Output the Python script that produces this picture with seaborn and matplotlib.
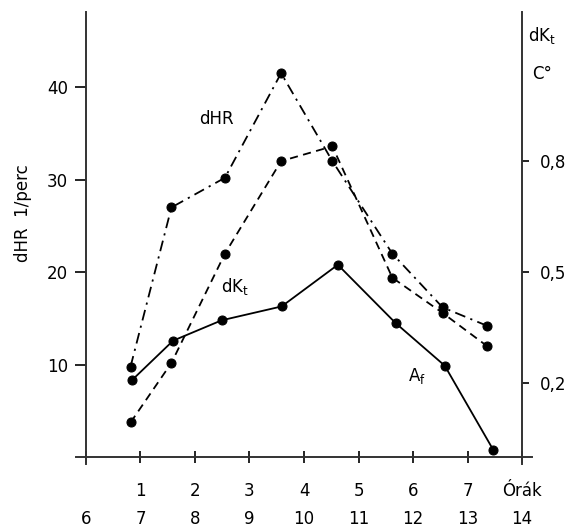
import matplotlib
matplotlib.use('Agg')
import matplotlib.pyplot as plt
import seaborn as sns

# hours of measurement (x positions of the points)
hours = [0.82, 1.57, 2.55, 3.58, 4.52, 5.62, 6.54, 7.36]
hours_af = [0.84, 1.6, 2.49, 3.59, 4.62, 5.68, 6.58, 7.47]

# dHR (1/perc), dK_t (C°) and A_f series
dhr = [9.8, 27.0, 30.2, 41.5, 32.0, 22.0, 16.2, 14.2]
dkt = [0.094, 0.255, 0.55, 0.80, 0.84, 0.485, 0.39, 0.30]
af = [8.3, 12.6, 14.8, 16.3, 20.8, 14.5, 9.9, 0.8]

# axis ticks and labels
x_ticks = [0, 1, 2, 3, 4, 5, 6, 7, 8]
x_top = ['', '1', '2', '3', '4', '5', '6', '7', 'Órák']
x_bottom = ['6', '7', '8', '9', '10', '11', '12', '13', '14']
left_ticks = [10, 20, 30, 40]
right_ticks = [0.2, 0.5, 0.8]
right_labels = ['0,2', '0,5', '0,8']


def main():
    sns.set_style('ticks')
    plt.rcParams['font.family'] = ['DejaVu Sans']
    plt.rcParams['text.color'] = 'black'
    plt.rcParams['xtick.color'] = 'black'
    plt.rcParams['ytick.color'] = 'black'
    fs = 12

    fig = plt.figure(figsize=(5.75, 5.27), dpi=100)
    ax = fig.add_axes([0.1322, 0.120, 0.793, 0.857])
    ax2 = ax.twinx()

    ax.set_xlim(-0.18, 8.18)
    ax.set_ylim(-0.7, 48.1)
    ax2.set_ylim(-0.7 / 40, 48.1 / 40)

    # dHR - dash-dot
    sns.lineplot(x=hours, y=dhr, ax=ax, color='black', lw=1.3, marker='o',
                 markersize=6.5, markeredgecolor='black',
                 estimator=None, sort=False)
    ax.lines[-1].set_dashes((6, 3, 1.2, 3))

    # A_f - solid
    sns.lineplot(x=hours_af, y=af, ax=ax, color='black', lw=1.3, marker='o',
                 markersize=6.5, markeredgecolor='black',
                 estimator=None, sort=False)

    # dK_t - dashed, right axis
    sns.lineplot(x=hours, y=dkt, ax=ax2, color='black', lw=1.3, marker='o',
                 markersize=6.5, markeredgecolor='black',
                 estimator=None, sort=False)
    ax2.lines[-1].set_dashes((4.5, 3))

    # spines
    for s in ['top', 'right']:
        ax.spines[s].set_visible(False)
    for s in ['top', 'left', 'bottom']:
        ax2.spines[s].set_visible(False)
    ax.spines['left'].set_position(('data', 0))
    ax.spines['bottom'].set_position(('data', 0))
    ax2.spines['right'].set_position(('data', 8))
    for sp in [ax.spines['left'], ax.spines['bottom'], ax2.spines['right']]:
        sp.set_linewidth(1.4)
        sp.set_color('#333333')

    # ticks
    ax.set_xticks(x_ticks)
    ax.set_xticklabels([f'{t}\n{b}' for t, b in zip(x_top, x_bottom)],
                       fontsize=fs, linespacing=1.75)
    ax.tick_params(axis='x', direction='inout', length=9, width=1.2, pad=13)
    ax.set_yticks(left_ticks)
    ax.set_yticklabels([str(v) for v in left_ticks], fontsize=fs)
    ax.tick_params(axis='y', direction='out', length=8, width=1.2, pad=5)
    ax2.set_yticks(right_ticks)
    ax2.set_yticklabels(right_labels, fontsize=fs)
    ax2.tick_params(axis='y', direction='out', length=5, width=1.2, pad=8)

    ax.set_xlabel('')
    ax.set_ylabel('')
    ax2.set_ylabel('')

    # curve labels
    ax.text(2.4, 36.6, 'dHR', fontsize=fs, ha='center', va='center')
    ax.text(2.73, 18.4, r'dK$_\mathregular{t}$', fontsize=fs, ha='center', va='center')
    ax.text(6.07, 8.8, r'A$_\mathregular{f}$', fontsize=fs, ha='center', va='center')

    # axis titles
    fig.text(23 / 575, 1 - 213 / 527, 'dHR  1/perc', rotation=90, fontsize=fs,
             ha='center', va='center')
    fig.text(528 / 575, 1 - 36 / 527, r'dK$_\mathregular{t}$', fontsize=fs,
             ha='left', va='center')
    fig.text(532 / 575, 1 - 74 / 527, 'C°', fontsize=fs, ha='left', va='center')

    fig.savefig('out.png', dpi=100)


if __name__ == "__main__":
    main()
